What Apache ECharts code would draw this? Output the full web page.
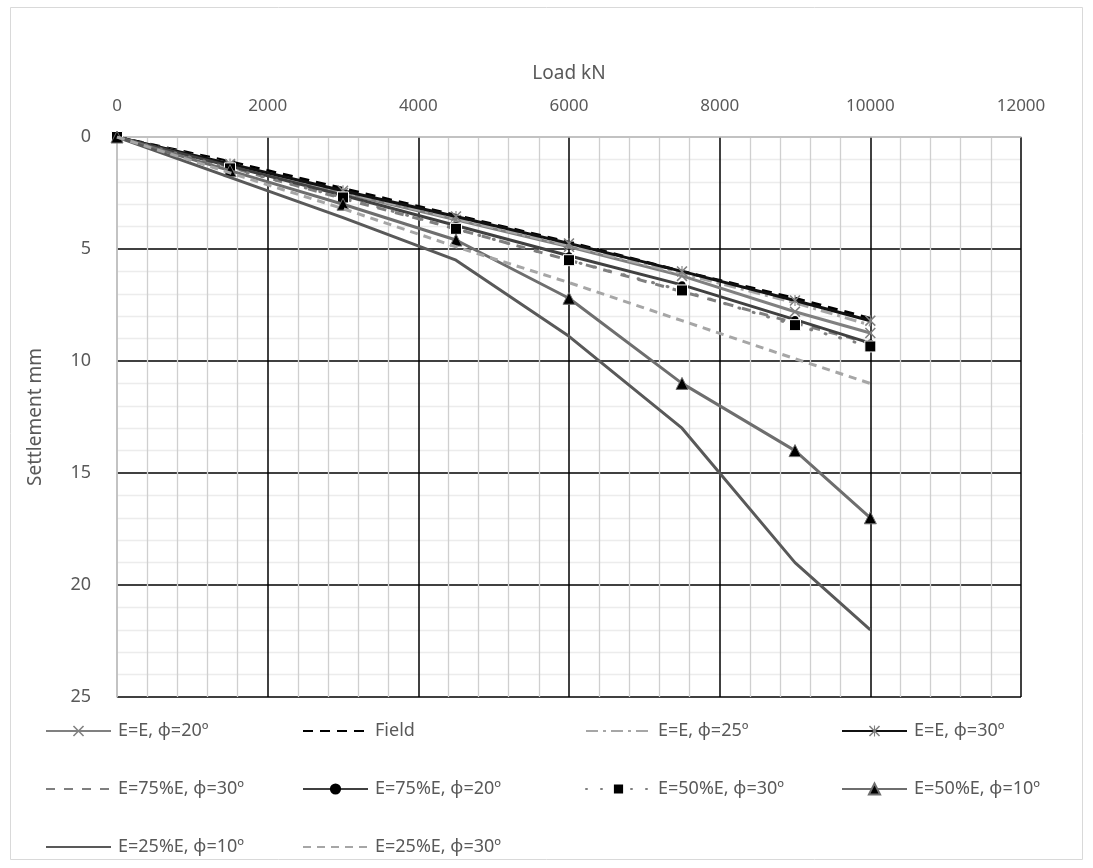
<!DOCTYPE html>
<html>
<head>
<meta charset="utf-8">
<script src="https://cdn.jsdelivr.net/npm/echarts@6/dist/echarts.min.js"></script>
<style>
html,body{margin:0;padding:0;background:#fff;}
#c{width:1093px;height:868px;}
</style>
</head>
<body>
<div id="c"></div>
<script>
// ---- data ----
const loads = [0, 1500, 3000, 4500, 6000, 7500, 9000, 10000];
const seriesNames = ['E=E, φ=20º','Field','E=E, φ=25º','E=E, φ=30º','E=75%E, φ=30º','E=75%E, φ=20º','E=50%E, φ=30º','E=50%E, φ=10º','E=25%E, φ=10º','E=25%E, φ=30º'];
const eE20   = [0, 1.25, 2.5, 3.7, 4.9, 6.2, 7.8, 8.75];
const field  = [0, 1.1, 2.3, 3.5, 4.7, 6.0, 7.2, 8.1];
const eE25   = [0, 1.2, 2.45, 3.65, 4.85, 6.1, 7.4, 8.4];
const eE30   = [0, 1.2, 2.4, 3.55, 4.75, 6.0, 7.3, 8.2];
const e75p30 = [0, 1.35, 2.75, 4.1, 5.5, 6.9, 8.3, 9.2];
const e75p20 = [0, 1.3, 2.6, 3.95, 5.3, 6.6, 8.15, 9.2];
const e50p30 = [0, 1.4, 2.7, 4.1, 5.5, 6.85, 8.4, 9.35];
const e50p10 = [0, 1.5, 3.0, 4.6, 7.2, 11.0, 14.0, 17.0];
const e25p10 = [0, 1.8, 3.6, 5.5, 8.9, 13.0, 19.0, 22.0];
const e25p30 = [0, 1.6, 3.2, 4.9, 6.5, 8.2, 9.9, 11.0];
const xTicks = [0, 2000, 4000, 6000, 8000, 10000, 12000];
const yTicks = [0, 5, 10, 15, 20, 25];

const values = [eE20, field, eE25, eE30, e75p30, e75p20, e50p30, e50p10, e25p10, e25p30];

// ---- styles ----
const FONT = 'Noto Sans';
const TXT = '#595959';
const xPath = 'path://M0,2 L2,0 L10,8 L18,0 L20,2 L12,10 L20,18 L18,20 L10,12 L2,20 L0,18 L8,10 Z';
const starPath = 'path://M0,2 L2,0 L10,8 L18,0 L20,2 L12,10 L20,18 L18,20 L10,12 L2,20 L0,18 L8,10 Z M9,0 L11,0 L11,20 L9,20 Z';
const styles = [
  {color:'#808080', type:'solid', symbol:xPath, size:11, sColor:'#808080', sBorder:'#ffffff', sbw:0},
  {color:'#000000', type:[10,7], symbol:'none'},
  {color:'#a6a6a6', type:[12,5,3,5], symbol:'none'},
  {color:'#111111', type:'solid', symbol:starPath, size:11, sColor:'#808080', sBorder:'#ffffff', sbw:0},
  {color:'#7f7f7f', type:[9,9], symbol:'none'},
  {color:'#404040', type:'solid', symbol:'circle', size:7, sColor:'#000000', sBorder:'#000000', sbw:0},
  {color:'#7f7f7f', type:[1,14], cap:'round', symbol:'rect', size:11, sColor:'#000000', sBorder:'#ffffff', sbw:1},
  {color:'#6e6e6e', type:'solid', symbol:'triangle', size:12, sColor:'#000000', sBorder:'#6e6e6e', sbw:1},
  {color:'#595959', type:'solid', symbol:'none'},
  {color:'#a6a6a6', type:[8,6], symbol:'none'}
];

const series = seriesNames.map((name, i) => {
  const st = styles[i];
  return {
    name: name,
    type: 'line',
    data: loads.map((x, k) => [x, values[i][k]]),
    symbol: st.symbol,
    symbolSize: st.size || 0,
    showSymbol: st.symbol !== 'none',
    lineStyle: {color: st.color, width: 3, type: st.type, cap: st.cap || 'butt'},
    itemStyle: {color: st.sColor || st.color, borderColor: st.sBorder || st.color, borderWidth: st.sbw || 0},
    emphasis: {disabled: true},
    animation: false,
    z: 2 + i
  };
});

// legend layout: 4 columns x 3 rows
const colX = [45, 302, 585, 841];
const rowY = [729, 787, 845];
const legends = seriesNames.map((name, i) => {
  const noSym = styles[i].symbol === 'none';
  const item = noSym ? {name: name, itemStyle: {opacity: 0, color: 'rgba(0,0,0,0)', borderWidth: 0}} : {name: name};
  return {
    data: [item],
    left: colX[i % 4],
    top: rowY[Math.floor(i / 4)] - 7,
    itemWidth: 65,
    itemHeight: 14,
    padding: 0,
    textStyle: {fontFamily: FONT, fontSize: 18, color: TXT, padding: [0, 0, 0, 2]},
    selectedMode: false
  };
});

const plainNum = v => String(v);

const chart = echarts.init(document.getElementById('c'), null, {renderer: 'canvas'});
chart.setOption({
  backgroundColor: '#ffffff',
  animation: false,
  textStyle: {fontFamily: FONT},
  grid: {left: 117, top: 137, width: 904, height: 560, containLabel: false},
  graphic: [{
    type: 'rect', shape: {x: 10.5, y: 7.5, width: 1072, height: 852},
    style: {fill: 'none', stroke: '#d9d9d9', lineWidth: 1}, silent: true, z: -10
  }],
  xAxis: {
    type: 'value', position: 'top', min: xTicks[0], max: xTicks[xTicks.length - 1], interval: 2000,
    name: 'Load kN', nameLocation: 'middle', nameGap: 54,
    nameTextStyle: {fontFamily: FONT, fontSize: 19, color: TXT},
    axisLine: {show: true, lineStyle: {color: '#bfbfbf', width: 1.5}},
    axisTick: {show: false},
    axisLabel: {fontFamily: FONT, fontSize: 17, color: TXT, margin: 22, formatter: plainNum},
    splitLine: {show: true, lineStyle: {color: xTicks.map((t, i) => i === 0 ? '#bfbfbf' : '#000000'), width: 1.5}},
    minorTick: {show: false, splitNumber: 5},
    minorSplitLine: {show: true, lineStyle: {color: '#cfcfcf', width: 1.3}}
  },
  yAxis: {
    type: 'value', inverse: true, min: yTicks[0], max: yTicks[yTicks.length - 1], interval: 5,
    name: 'Settlement mm', nameLocation: 'middle', nameGap: 72, nameRotate: 90,
    nameTextStyle: {fontFamily: FONT, fontSize: 19, color: TXT},
    axisLine: {show: true, lineStyle: {color: '#bfbfbf', width: 1.5}},
    axisTick: {show: false},
    axisLabel: {fontFamily: FONT, fontSize: 18, color: TXT, margin: 26, formatter: plainNum},
    splitLine: {show: true, lineStyle: {color: yTicks.map((t, i) => i === 0 ? '#bfbfbf' : '#000000'), width: 1.5}},
    minorTick: {show: false, splitNumber: 5},
    minorSplitLine: {show: true, lineStyle: {color: '#ececec', width: 1.3}}
  },
  legend: legends,
  series: series
});
</script>
</body>
</html>
